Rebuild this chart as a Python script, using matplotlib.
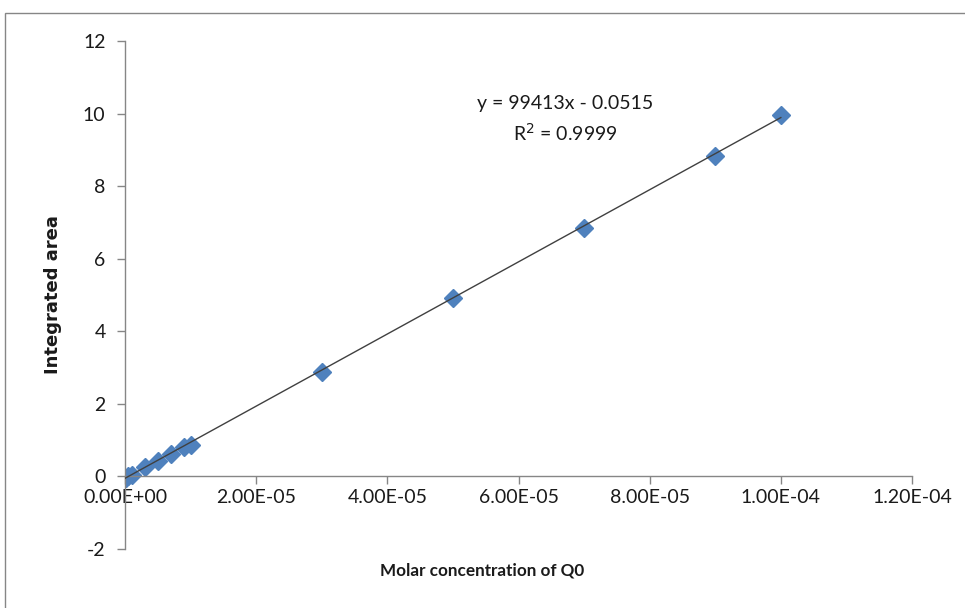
import matplotlib
matplotlib.use("Agg")
import matplotlib.pyplot as plt
from matplotlib.patches import Rectangle
from matplotlib.ticker import FuncFormatter

# Data
conc = [1e-7, 5e-7, 1e-6, 3e-6, 5e-6, 7e-6, 9e-6, 1e-5, 3e-5, 5e-5, 7e-5, 9e-5, 1e-4]
area = [-0.04, 0.0, 0.05, 0.25, 0.42, 0.62, 0.80, 0.86, 2.87, 4.92, 6.86, 8.83, 9.95]
slope = 99413
intercept = -0.0515
fit_x = [0.0, 1e-4]
x_ticks = [0, 2e-5, 4e-5, 6e-5, 8e-5, 1e-4, 1.2e-4]
y_ticks = [-2, 0, 2, 4, 6, 8, 10, 12]

plt.rcParams['font.family'] = ['Lato', 'DejaVu Sans']
plt.rcParams['axes.unicode_minus'] = False

fig = plt.figure(figsize=(9.65, 6.08), dpi=100)
ax = fig.add_axes([125/965, 1-549/608, (912-125)/965, (549-41)/608])

fit_y = [slope*v + intercept for v in fit_x]
ax.plot(fit_x, fit_y, color='#404040', lw=1.0, zorder=3)
ax.plot(conc, area, linestyle='none', marker='D', markersize=9.5,
        color='#4F81BD', markeredgecolor='#4F81BD', zorder=2)

ax.set_xlim(0, 1.2e-4)
ax.set_ylim(-2, 12)
ax.set_xticks(x_ticks)
ax.set_yticks(y_ticks)
ax.xaxis.set_major_formatter(FuncFormatter(lambda v, p: f"{v:.2E}"))

ax.spines['top'].set_visible(False)
ax.spines['right'].set_visible(False)
ax.spines['bottom'].set_position(('data', 0))
for s in ('left', 'bottom'):
    ax.spines[s].set_color('#868686')
    ax.spines[s].set_linewidth(1.0)
ax.tick_params(axis='both', colors='#868686', labelcolor='#1a1a1a', labelsize=14, length=6, width=1.0)
ax.tick_params(axis='x', pad=3, direction='out')
ax.tick_params(axis='y', pad=8)

fig.text(482/965, 1-571/608, 'Molar concentration of Q0', ha='center', va='center',
         fontsize=12.3, fontweight='bold', color='#1a1a1a')
fig.text(53/965, 1-295/608, 'Integrated area', ha='center', va='center', rotation=90,
         fontsize=13, fontweight='bold', color='#1a1a1a', family=['DejaVu Sans'])

fig.text(565/965, 1-103/608, 'y = 99413x - 0.0515', ha='center', va='center', fontsize=14, color='#1a1a1a')
fig.text(565/965, 1-133/608, 'R$^2$ = 0.9999', ha='center', va='center', fontsize=14, color='#1a1a1a')

fig.patches.append(Rectangle((5/965, -0.02), 1.0, 1-13/608+0.02, transform=fig.transFigure,
                             fill=False, edgecolor='#868686', lw=1.0))

fig.savefig('out.png', dpi=100)
